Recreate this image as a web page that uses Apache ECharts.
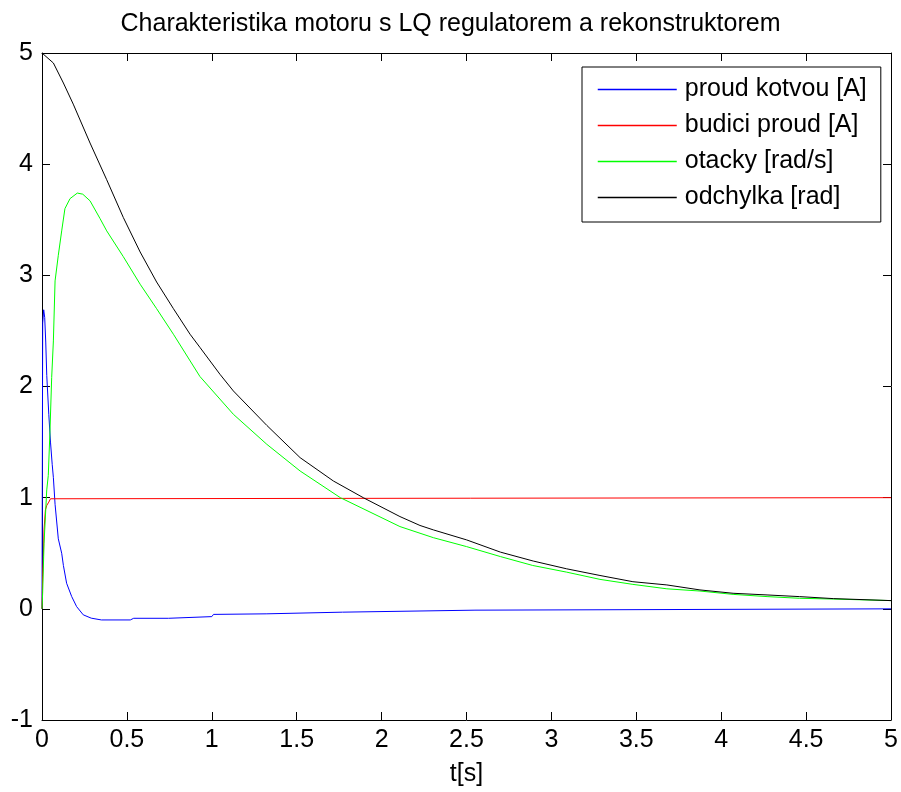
<!DOCTYPE html>
<html>
<head>
<meta charset="utf-8">
<script src="https://cdn.jsdelivr.net/npm/echarts@6/dist/echarts.min.js"></script>
<style>
html,body{margin:0;padding:0;background:#fff;}
#chart{width:901px;height:792px;}
</style>
</head>
<body>
<div id="chart"></div>
<script>
// ---- data ----
var xTicks = [0, 0.5, 1, 1.5, 2, 2.5, 3, 3.5, 4, 4.5, 5];
var yTicks = [-1, 0, 1, 2, 3, 4, 5];

var seriesNames = ['proud kotvou [A]', 'budici proud [A]', 'otacky [rad/s]', 'odchylka [rad]'];

// proud kotvou [A]
var tArmature = [0, 0.004, 0.01, 0.016, 0.022, 0.028, 0.04, 0.05, 0.06, 0.067, 0.077, 0.096, 0.116, 0.126, 0.145, 0.175, 0.204, 0.243, 0.29, 0.35, 0.52, 0.54, 0.745, 0.755, 1.0, 1.01, 1.32, 1.33, 1.77, 1.78, 2.55, 2.56, 5.0];
var vArmature = [0, 2.57, 2.69, 2.62, 2.4, 2.1, 1.75, 1.5, 1.3, 1.18, 0.94, 0.63, 0.50, 0.39, 0.23, 0.11, 0.02, -0.054, -0.084, -0.10, -0.10, -0.085, -0.085, -0.07, -0.07, -0.05, -0.045, -0.035, -0.03, -0.018, -0.012, 0, 0];

// budici proud [A]
var tField = [0, 0.004, 0.008, 0.012, 0.02, 0.028, 0.04, 0.05, 0.06, 5.0];
var vField = [0, 0.3, 0.47, 0.71, 0.89, 0.93, 0.96, 0.99, 1.0, 1.0];

// otacky [rad/s]
var tSpeed = [0, 0.004, 0.012, 0.028, 0.037, 0.047, 0.057, 0.067, 0.077, 0.096, 0.116, 0.135, 0.165, 0.208, 0.24, 0.283, 0.342, 0.381, 0.478, 0.578, 0.675, 0.774, 0.93, 1.127, 1.324, 1.52, 1.757, 2.108, 2.305, 2.50, 2.70, 2.89, 3.09, 3.286, 3.48, 3.68, 3.875, 4.07, 4.27, 4.46, 4.66, 5.0];
var vSpeed = [0, 0.15, 0.59, 1.07, 1.2, 1.6, 2.08, 2.41, 2.95, 3.18, 3.40, 3.60, 3.69, 3.74, 3.73, 3.67, 3.51, 3.40, 3.17, 2.92, 2.70, 2.47, 2.09, 1.75, 1.48, 1.24, 1.00, 0.74, 0.64, 0.56, 0.47, 0.39, 0.33, 0.265, 0.22, 0.18, 0.16, 0.13, 0.11, 0.095, 0.088, 0.074];

// odchylka [rad]
var tAngle = [0, 0.067, 0.126, 0.184, 0.283, 0.381, 0.479, 0.578, 0.675, 0.774, 0.872, 0.931, 1.048, 1.127, 1.324, 1.52, 1.716, 1.892, 2.108, 2.226, 2.305, 2.501, 2.70, 2.893, 3.09, 3.286, 3.48, 3.68, 3.875, 4.07, 4.27, 4.46, 4.66, 5.0];
var vAngle = [5.0, 4.91, 4.73, 4.54, 4.19, 3.86, 3.52, 3.21, 2.94, 2.70, 2.47, 2.35, 2.11, 1.96, 1.65, 1.36, 1.15, 1.00, 0.83, 0.75, 0.71, 0.62, 0.51, 0.43, 0.36, 0.30, 0.244, 0.215, 0.17, 0.14, 0.125, 0.11, 0.092, 0.074];

var colors = ['#0000ff', '#ff0000', '#00ff00', '#000000'];

function pairs(t, v) {
  var out = [];
  for (var i = 0; i < t.length; i++) out.push([t[i], v[i]]);
  return out;
}
var seriesData = [pairs(tArmature, vArmature), pairs(tField, vField), pairs(tSpeed, vSpeed), pairs(tAngle, vAngle)];

var FONT = 'Liberation Sans, Arial, sans-serif';
var tickFont = {fontFamily: FONT, fontSize: 25, color: '#000'};

var chart = echarts.init(document.getElementById('chart'), null, {renderer: 'canvas'});

var commonX = {
  type: 'value', min: xTicks[0], max: xTicks[xTicks.length - 1], interval: 0.5,
  axisLine: {show: true, onZero: false, lineStyle: {color: '#000', width: 1}},
  axisTick: {show: true, inside: true, length: 8, lineStyle: {color: '#000'}},
  splitLine: {show: false}
};
var commonY = {
  type: 'value', min: yTicks[0], max: yTicks[yTicks.length - 1], interval: 1,
  axisLine: {show: true, onZero: false, lineStyle: {color: '#000', width: 1}},
  axisTick: {show: true, inside: true, length: 8, lineStyle: {color: '#000'}},
  splitLine: {show: false}
};

var option = {
  backgroundColor: '#fff',
  color: colors,
  animation: false,
  title: {
    text: 'Charakteristika motoru s LQ regulatorem a rekonstruktorem',
    left: 'center', top: 7,
    textStyle: {fontFamily: FONT, fontSize: 25, fontWeight: 'normal', color: '#000'}
  },
  grid: {left: 42, right: 10, top: 53, bottom: 68, containLabel: false},
  xAxis: [
    Object.assign({}, commonX, {
      position: 'bottom',
      name: 't[s]', nameLocation: 'middle', nameGap: 42,
      nameTextStyle: tickFont,
      axisLabel: Object.assign({margin: 8, formatter: function (v) { return String(v); }}, tickFont)
    }),
    Object.assign({}, commonX, {position: 'top', axisLabel: {show: false}})
  ],
  yAxis: [
    Object.assign({}, commonY, {
      position: 'left',
      axisLabel: Object.assign({margin: 9}, tickFont)
    }),
    Object.assign({}, commonY, {position: 'right', axisLabel: {show: false}})
  ],
  legend: {
    show: true,
    orient: 'vertical',
    left: 582, top: 67,
    data: seriesNames.map(function (n, i) {
      return {
        name: n,
        itemStyle: {color: colors[i], opacity: 0},
        lineStyle: {color: colors[i], width: 1.5, opacity: 1}
      };
    }),
    itemWidth: 79, itemHeight: 14,
    itemGap: 11,
    padding: [10, 14, 12, 15],
    borderColor: '#000', borderWidth: 1,
    backgroundColor: '#fff',
    textStyle: {fontFamily: FONT, fontSize: 25, color: '#000', padding: [0, 0, 0, 3]}
  },
  series: seriesNames.map(function (name, i) {
    return {
      name: name, type: 'line', data: seriesData[i],
      xAxisIndex: 0, yAxisIndex: 0,
      showSymbol: false, symbol: 'none',
      color: colors[i],
      lineStyle: {color: colors[i], width: 1},
      itemStyle: {color: colors[i]},
      smooth: false
    };
  })
};
chart.setOption(option);
</script>
</body>
</html>
